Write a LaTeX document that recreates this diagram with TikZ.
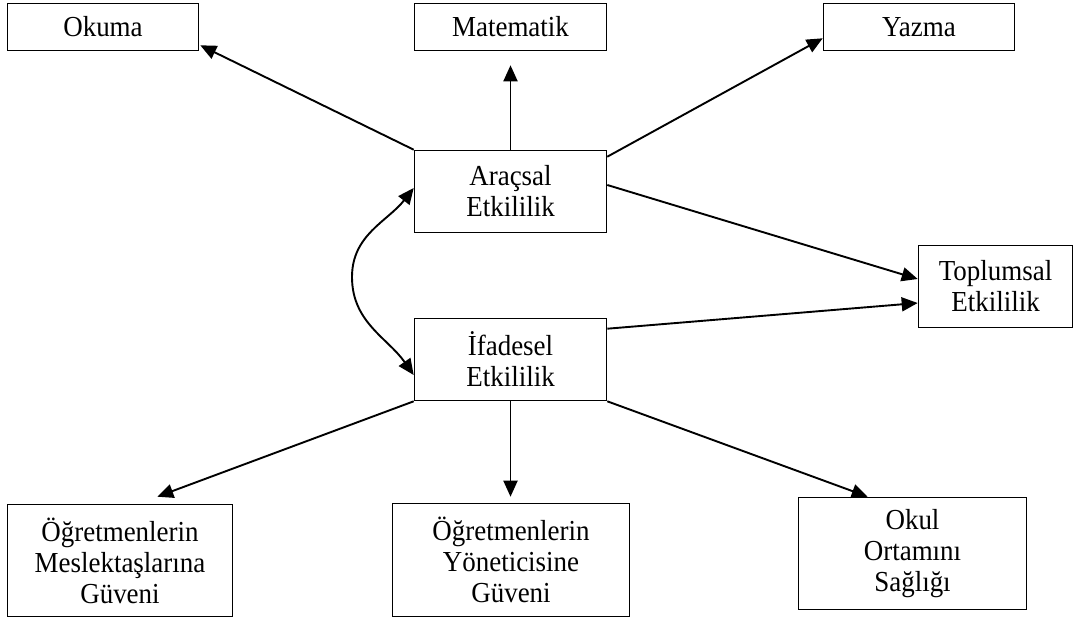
\documentclass[tikz,border=0pt]{standalone}
\usepackage{fontspec}
\setmainfont{Liberation Serif}[FakeStretch=0.93]
\usetikzlibrary{arrows.meta,calc}
\begin{document}
\begin{tikzpicture}[x=1pt,y=-1pt,
  box/.style={draw, line width=1.6pt, inner sep=0pt, align=center,
    font=\fontsize{29}{31}\selectfont},
  conn/.style={line width=1.9pt, -{Triangle[length=16pt,width=14pt]}},
  bconn/.style={line width=1.9pt, {Triangle[length=16pt,width=14pt]}-{Triangle[length=16pt,width=14pt]}}]
\useasboundingbox (0,0) rectangle (1075,621);
% top row
\node[box, minimum width=191pt, minimum height=47pt] (okuma) at (103,27) {Okuma};
\node[box, minimum width=192pt, minimum height=47pt] (mat) at (510.5,27) {Matematik};
\node[box, minimum width=191pt, minimum height=47pt] (yaz) at (919,27) {Yazma};
% middle
\node[box, minimum width=192pt, minimum height=82pt] (arac) at (510.5,191.5) {Araçsal\\Etkililik};
\node[box, minimum width=192pt, minimum height=82pt] (ifa) at (510.5,359.5) {İfadesel\\Etkililik};
\node[box, minimum width=154pt, minimum height=82pt] (top) at (995.5,286.5) {Toplumsal\\Etkililik};
% bottom row
\node[box, minimum width=225pt, minimum height=112pt] (m1) at (120,560.5) {Öğretmenlerin\\Meslektaşlarına\\Güveni};
\node[box, minimum width=237pt, minimum height=113pt] (m2) at (511,560) {Öğretmenlerin\\Yöneticisine\\Güveni};
\node[box, minimum width=228pt, minimum height=112pt] (m3) at (912.5,553.5) {Okul\\Ortamını\\Sağlığı};
% connectors
\draw[conn] (arac.north west) -- ($(okuma.south east)+(1,-6)$);
\draw[conn] (arac.north) -- ($(mat.south)+(0,14)$);
\draw[conn] ($(arac.north east)+(0,7)$) -- ($(yaz.south west)+(0,-13)$);
\draw[conn] ($(arac.east)+(0,-6.5)$) -- ($(top.west)+(0,-7.5)$);
\draw[conn] ($(ifa.north east)+(0,11)$) -- ($(top.west)+(0,16.5)$);
\draw[conn] (ifa.south west) -- ($(m1.north east)+(-76,-7)$);
\draw[conn] (ifa.south) -- ($(m2.north)+(-0.5,-6)$);
\draw[conn] (ifa.south east) -- ($(m3.north west)+(70,0)$);
\draw[bconn] ($(arac.west)+(0,-3.5)$) to[out=-128,in=90] (352,277) to[out=-90,in=125] ($(ifa.west)+(0,15.5)$);
\end{tikzpicture}
\end{document}
